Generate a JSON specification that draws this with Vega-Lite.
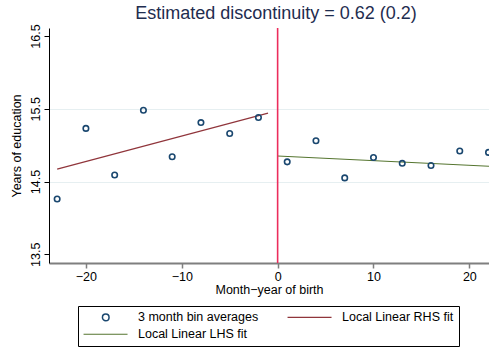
{
  "$schema": "https://vega.github.io/schema/vega-lite/v6.json",
  "width": 440,
  "height": 235,
  "autosize": {"type": "none"},
  "padding": {"left": 49, "top": 28, "right": 0, "bottom": 87},
  "background": "white",
  "title": {
    "text": "Estimated discontinuity = 0.62 (0.2)",
    "fontSize": 18,
    "font": "Liberation Sans",
    "fontWeight": "normal",
    "color": "#1f2d4f",
    "anchor": "middle",
    "dx": 7,
    "offset": 1
  },
  "config": {
    "view": {"stroke": null},
    "font": "Liberation Sans",
    "axis": {
      "labelFont": "Liberation Sans",
      "titleFont": "Liberation Sans",
      "labelFontSize": 12.5,
      "titleFontSize": 12.5,
      "labelColor": "#000000",
      "titleColor": "#000000",
      "titleFontWeight": "normal",
      "tickSize": 5
    }
  },
  "datasets": {
    "bins": [
      {"x": -23, "y": 14.26, "series": "3 month bin averages"},
      {"x": -20, "y": 15.23, "series": "3 month bin averages"},
      {"x": -17, "y": 14.59, "series": "3 month bin averages"},
      {"x": -14, "y": 15.48, "series": "3 month bin averages"},
      {"x": -11, "y": 14.84, "series": "3 month bin averages"},
      {"x": -8, "y": 15.31, "series": "3 month bin averages"},
      {"x": -5, "y": 15.16, "series": "3 month bin averages"},
      {"x": -2, "y": 15.38, "series": "3 month bin averages"},
      {"x": 1, "y": 14.77, "series": "3 month bin averages"},
      {"x": 4, "y": 15.06, "series": "3 month bin averages"},
      {"x": 7, "y": 14.55, "series": "3 month bin averages"},
      {"x": 10, "y": 14.83, "series": "3 month bin averages"},
      {"x": 13, "y": 14.75, "series": "3 month bin averages"},
      {"x": 16, "y": 14.72, "series": "3 month bin averages"},
      {"x": 19, "y": 14.92, "series": "3 month bin averages"},
      {"x": 22, "y": 14.90, "series": "3 month bin averages"}
    ],
    "fits": [
      {"x": -23, "y": 14.67, "series": "Local Linear RHS fit"},
      {"x": -1, "y": 15.44, "series": "Local Linear RHS fit"},
      {"x": 0, "y": 14.85, "series": "Local Linear LHS fit"},
      {"x": 22.1, "y": 14.71, "series": "Local Linear LHS fit"}
    ],
    "cutoff": [
      {"x": 0}
    ]
  },
  "layer": [
    {
      "data": {"name": "fits"},
      "mark": {"type": "line", "strokeWidth": 1.1, "clip": true},
      "encoding": {
        "x": {
          "field": "x", "type": "quantitative",
          "scale": {"domain": [-23.85, 22.05], "nice": false, "zero": false},
          "axis": {
            "values": [-20, -10, 0, 10, 20],
            "title": "Month−year of birth",
            "grid": false,
            "domainColor": "#7f7f7f",
            "domainWidth": 2.2,
            "tickColor": "#7f7f7f",
            "tickWidth": 1.5,
            "labelPadding": 2,
            "titlePadding": 1
          }
        },
        "y": {
          "field": "y", "type": "quantitative",
          "scale": {"domain": [13.38, 16.61], "nice": false, "zero": false},
          "axis": {
            "values": [13.5, 14.5, 15.5, 16.5],
            "format": ".1f",
            "title": "Years of education",
            "labelAngle": -90,
            "labelAlign": "center",
            "labelBaseline": "bottom",
            "labelPadding": 2,
            "titlePadding": 6,
            "domainColor": "#000000",
            "domainWidth": 1,
            "tickColor": "#000000",
            "grid": true,
            "gridColor": "#e6eff1",
            "gridWidth": 1,
            "gridOpacity": {"condition": {"test": "datum.value == 14.5 || datum.value == 15.5", "value": 1}, "value": 0}
          }
        },
        "detail": {"field": "series"},
        "color": {
          "field": "series", "type": "nominal",
          "scale": {
            "domain": ["3 month bin averages", "Local Linear RHS fit", "Local Linear LHS fit"],
            "range": ["#1a476f", "#90353b", "#55752f"]
          },
          "legend": {
            "orient": "none",
            "legendX": 29,
            "legendY": 278,
            "direction": "horizontal",
            "columns": 2,
            "title": null,
            "strokeColor": "#000000",
            "padding": 5,
            "columnPadding": 26,
            "rowPadding": 4,
            "labelFont": "Liberation Sans",
            "labelFontSize": 12.5,
            "labelColor": "#000000",
            "labelLimit": 300,
            "symbolSize": 144,
            "symbolType": "circle",
            "symbolStrokeWidth": 1.1,
            "labelOffset": 42.5,
            "encode": {
              "symbols": {
                "update": {
                  "shape": {"signal": "datum.value == '3 month bin averages' ? 'M3.3,0A0.55,0.55,0,1,1,2.2,0A0.55,0.55,0,1,1,3.3,0Z' : 'M-0.95,0L6.38,0'"},
                  "strokeWidth": {"signal": "datum.value == '3 month bin averages' ? 1.5 : 1.1"},
                  "fill": {"value": "transparent"}
                }
              }
            }
          }
        }
      }
    },
    {
      "data": {"name": "bins"},
      "mark": {"type": "point", "filled": false, "shape": "circle", "size": 30, "strokeWidth": 1.6, "opacity": 1},
      "encoding": {
        "x": {"field": "x", "type": "quantitative"},
        "y": {"field": "y", "type": "quantitative"},
        "color": {"field": "series", "type": "nominal"}
      }
    },
    {
      "data": {"name": "cutoff"},
      "mark": {"type": "rule", "stroke": "#ec2c5c", "color": "#ec2c5c", "strokeWidth": 1.6, "opacity": 1},
      "encoding": {"x": {"field": "x", "type": "quantitative"}}
    }
  ]
}
